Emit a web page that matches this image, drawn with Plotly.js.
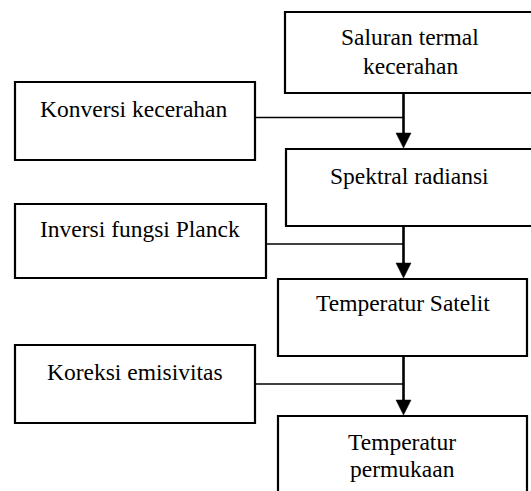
<!DOCTYPE html>
<html>
<head>
<meta charset="utf-8">
<script src="https://cdn.plot.ly/plotly-3.0.1.min.js"></script>
<style>html,body{margin:0;padding:0;background:#fff;}#chart{width:531px;height:491px;}</style>
</head>
<body>
<div id="chart"></div>
<script>
// Flowchart content
const mainSteps = ["Saluran termal<br>kecerahan", "Spektral radiansi", "Temperatur Satelit", "Temperatur<br>permukaan"];
const sideInputs = ["Konversi kecerahan", "Inversi fungsi Planck", "Koreksi emisivitas"];

// Geometry (pixel-like coordinates of the canvas)
const mainBoxes = [
  {x0:285, y0:12,  x1:540, y1:93,  tx:410, ty:[37, 66]},
  {x0:286, y0:149, x1:540, y1:226, tx:409, ty:[176]},
  {x0:278, y0:279, x1:527, y1:356, tx:403, ty:[303]},
  {x0:278, y0:416, x1:527, y1:505, tx:402, ty:[442, 469]}
];
const sideBoxes = [
  {x0:15, y0:82,  x1:255, y1:160, tx:134, ty:109, cy:117.5},
  {x0:15, y0:204, x1:266, y1:278, tx:140, ty:229, cy:244},
  {x0:15, y0:345, x1:255, y1:423, tx:135, ty:372, cy:384}
];
const spineX = 403.5;
const headH = 15, headW = 7.5;

const shapes = [];
const annotations = [];
const font = {family: "Liberation Serif", size: 23.5, color: "#000"};

mainBoxes.forEach((b, i) => {
  shapes.push({type:"rect", xref:"x", yref:"y", x0:b.x0, x1:b.x1, y0:b.y0, y1:b.y1,
    line:{color:"#000", width:2.2}, fillcolor:"rgba(0,0,0,0)"});
  const lines = mainSteps[i].split("<br>");
  lines.forEach((t, k) => {
    annotations.push({x:b.tx, y:b.ty[k], xref:"x", yref:"y", text:t, showarrow:false,
      xanchor:"center", yanchor:"middle", font:font});
  });
});

sideBoxes.forEach((b, i) => {
  shapes.push({type:"rect", xref:"x", yref:"y", x0:b.x0, x1:b.x1, y0:b.y0, y1:b.y1,
    line:{color:"#000", width:2.2}, fillcolor:"rgba(0,0,0,0)"});
  annotations.push({x:b.tx, y:b.ty, xref:"x", yref:"y", text:sideInputs[i], showarrow:false,
    xanchor:"center", yanchor:"middle", font:font});
  // horizontal connector into the spine
  shapes.push({type:"line", xref:"x", yref:"y", x0:b.x1, x1:spineX, y0:b.cy, y1:b.cy,
    line:{color:"#000", width:1.6}});
});

// vertical arrows between consecutive main boxes
for (let i = 0; i < mainBoxes.length - 1; i++) {
  const top = mainBoxes[i].y1, tip = mainBoxes[i+1].y0 - 1;
  shapes.push({type:"line", xref:"x", yref:"y", x0:spineX, x1:spineX, y0:top, y1:tip - headH + 1,
    line:{color:"#000", width:2.6}});
  shapes.push({type:"path", xref:"x", yref:"y",
    path:`M ${spineX-headW} ${tip-headH} L ${spineX+headW} ${tip-headH} L ${spineX} ${tip} Z`,
    fillcolor:"#000", line:{color:"#000", width:0.5}});
}

const layout = {
  width:531, height:491,
  margin:{l:0, r:0, t:0, b:0, pad:0},
  paper_bgcolor:"#fff", plot_bgcolor:"#fff",
  showlegend:false,
  xaxis:{range:[0,531], visible:false, fixedrange:true},
  yaxis:{range:[491,0], visible:false, fixedrange:true},
  shapes:shapes,
  annotations:annotations
};

Plotly.newPlot("chart", [], layout, {staticPlot:true, displayModeBar:false});
</script>
</body>
</html>
